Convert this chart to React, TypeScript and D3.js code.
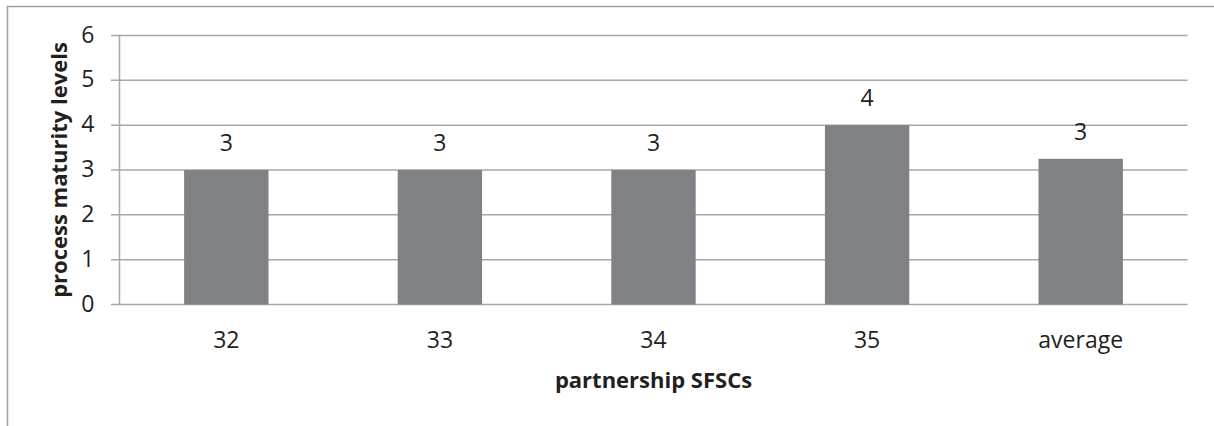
import React from "react";
import * as d3 from "d3";

const categories = ["32", "33", "34", "35", "average"];
const values = [3, 3, 3, 4, 3.25];
const yTicks = [0, 1, 2, 3, 4, 5, 6];

const W = 1214;
const H = 426;
const plot = { left: 119.5, right: 1187.5, top: 35.5, bottom: 304.5 };
const FONT = "'Open Sans', sans-serif";

export default function App() {
  const x = d3
    .scaleBand<string>()
    .domain(categories)
    .range([plot.left, plot.right])
    .paddingInner(0.605)
    .paddingOuter(0.3025);
  const y = d3.scaleLinear().domain([0, 6]).range([plot.bottom, plot.top]);
  const fmt = d3.format(".0f");
  const gridColor = "#a8a8a8";
  const textColor = "#231f20";

  return (
    <svg
      width={W}
      height={H}
      style={{ position: "absolute", left: 0, top: 0, background: "#fff" }}
    >
      {/* outer frame */}
      <rect x={7.5} y={6.5} width={W + 10} height={H + 10} fill="none" stroke="#a0a0a0" strokeWidth={1.5} />

      {/* horizontal gridlines with tick marks */}
      {yTicks.map((t) => (
        <g key={t}>
          <line x1={111} x2={plot.right} y1={y(t)} y2={y(t)} stroke={gridColor} strokeWidth={1.5} />
          <text
            x={94.5}
            y={y(t) + 1}
            textAnchor="end"
            dominantBaseline="middle"
            fontFamily={FONT}
            fontSize={23}
            fill={textColor}
          >
            {t}
          </text>
        </g>
      ))}
      {/* vertical axis line */}
      <line x1={plot.left} x2={plot.left} y1={plot.top} y2={plot.bottom} stroke={gridColor} strokeWidth={1.5} />

      {/* bars */}
      {categories.map((c, i) => (
        <g key={c}>
          <rect
            x={x(c)}
            y={y(values[i])}
            width={x.bandwidth()}
            height={plot.bottom - y(values[i])}
            fill="#808184"
          />
          <text
            x={(x(c) as number) + x.bandwidth() / 2}
            y={y(values[i]) - 19}
            textAnchor="middle"
            fontFamily={FONT}
            fontSize={23}
            fill={textColor}
          >
            {fmt(values[i])}
          </text>
          <text
            x={(x(c) as number) + x.bandwidth() / 2}
            y={348}
            textAnchor="middle"
            fontFamily={FONT}
            fontSize={23}
            fill={textColor}
          >
            {c}
          </text>
        </g>
      ))}

      {/* axis titles */}
      <text
        x={(plot.left + plot.right) / 2}
        y={388}
        textAnchor="middle"
        fontFamily={FONT}
        fontWeight="bold"
        fontSize={22}
        fill={textColor}
      >
        partnership SFSCs
      </text>
      <text
        transform={`translate(67, ${(plot.top + plot.bottom) / 2}) rotate(-90)`}
        textAnchor="middle"
        fontFamily={FONT}
        fontWeight="bold"
        fontSize={22}
        fill={textColor}
      >
        process maturity levels
      </text>
    </svg>
  );
}
